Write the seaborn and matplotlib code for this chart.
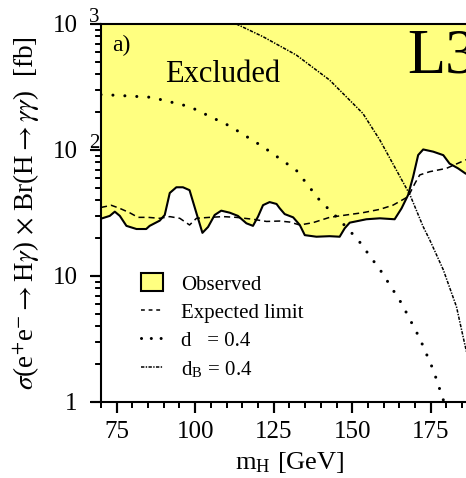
import matplotlib
matplotlib.use("Agg")
import matplotlib.pyplot as plt
import seaborn as sns
import numpy as np
from matplotlib.patches import Patch
from matplotlib.lines import Line2D

# Observed 95% CL limit on sigma x BR [fb] vs Higgs mass [GeV]
obs_mass = [70, 72.8, 74.4, 76, 78.1, 81.3, 84.4, 85.5, 88.7, 90.3, 91.9, 94, 96.1, 98.2,
            100.4, 102.3, 104.1, 106.2, 108.3, 111, 113.6, 116.3, 118.4, 120, 121.6, 123.7,
            125.9, 126.9, 128.5, 131.2, 133.3, 134.9, 138.6, 142.8, 146, 147.6, 149.2, 154.5,
            158.8, 163.5, 165.7, 167.8, 169.4, 171, 172.6, 175.8, 179, 181, 183.7, 186.1, 190]
obs_limit = [28.5, 30, 32.4, 30, 25, 23.6, 23.6, 25, 27.5, 30.5, 45.6, 50.6, 50.6, 48,
             31.5, 22, 24.5, 30.5, 33, 31.8, 30, 26.2, 25, 29.6, 36.5, 38.6,
             37.3, 34.5, 31, 29.2, 25.4, 21.1, 20.5, 20.7, 20.5, 23.9, 26.5, 28.2,
             28.7, 28.2, 34.4, 44, 61.4, 91.2, 101, 97, 91, 78, 71.5, 65, 60]

# Expected limit
exp_mass = [70, 73.3, 76, 79.1, 81.8, 85, 88.7, 91.9, 95.1, 98.2, 100.4, 104.6, 108.9,
            113.1, 118.4, 122.7, 126.9, 130.1, 133.3, 137.5, 142.8, 148.1, 153.4, 158.8,
            163, 167.8, 170, 171.5, 174.7, 180, 186.1, 190]
exp_limit = [35, 36.4, 34.4, 31.8, 29.2, 29.2, 28.7, 29.6, 28.7, 25.4, 28.7, 29.2, 29.6,
             29.2, 28.2, 27.1, 27.3, 26.8, 25.4, 26.5, 29.2, 30.5, 31.8, 33.8,
             36.5, 42.6, 54.5, 63.4, 67.3, 71.5, 83.4, 88]

# Model prediction, d = 0.4
d_mass = [70, 73.3, 86, 98.2, 111, 121.6, 132.2, 139.6, 146, 151.9, 159.3, 165.7, 171.5,
          175.8, 179, 180]
d_xsec = [275, 273, 262, 221, 155, 106, 69, 40, 27.8, 19.3, 10.8, 6.07, 3.2,
          1.8, 1.04, 0.9]

# Model prediction, d_B = 0.4
dB_mass = [113.1, 121.6, 132.2, 142.8, 153.4, 158.8, 164.1, 168.4, 172.6, 174.7, 179,
           183.2, 185.8, 187.5]
dB_xsec = [1000, 793, 567, 359, 195, 120, 69, 44, 24.6, 19.3, 11.2,
           5.7, 2.9, 1.9]

y_ticks = [1, 10, 100, 1000]
y_ticklabels = ["1", "10", "10", "10"]
y_exponents = {100: "2", 1000: "3"}
y_minor = [m * 10 ** e for e in range(0, 3) for m in range(2, 10)]
x_ticks = [75, 100, 125, 150, 175]
x_minor = [m for m in range(70, 191, 5) if m % 25 != 0]

yellow = "#ffff80"

sns.set_style("ticks")
plt.rcParams["font.family"] = ["Liberation Serif", "DejaVu Serif"]
plt.rcParams["mathtext.fontset"] = "stix"
plt.rcParams["text.color"] = "black"
plt.rcParams["axes.labelcolor"] = "black"

fig = plt.figure(figsize=(4.66, 4.78), dpi=100)
ax = fig.add_axes([0.2167, 0.159, 0.8087, 0.7908])
ax.set_yscale("log")

ax.fill_between(obs_mass, obs_limit, 5000, color=yellow, lw=0, zorder=1)
sns.lineplot(x=obs_mass, y=obs_limit, ax=ax, color="black", lw=1.5,
             sort=False, estimator=None, zorder=3)
sns.lineplot(x=exp_mass, y=exp_limit, ax=ax, color="black", lw=1.1,
             sort=False, estimator=None, zorder=3, dashes=False,
             linestyle=(0, (4, 2.6)))
line_d = sns.lineplot(x=d_mass, y=d_xsec, ax=ax, color="black", lw=2.2,
                      sort=False, estimator=None, zorder=3).lines[-1]
line_d.set_linestyle((0, (0.01, 3.9)))
line_d.set_dash_capstyle("round")
line_dB = sns.lineplot(x=dB_mass, y=dB_xsec, ax=ax, color="black", lw=1.1,
                       sort=False, estimator=None, zorder=3).lines[-1]
line_dB.set_linestyle((0, (2.2, 0.9, 0.9, 0.9)))

ax.set_xlim(70, 190)
ax.set_ylim(1, 1000)
ax.set_autoscale_on(False)

# axes styling
for side in ["left", "bottom", "top", "right"]:
    ax.spines[side].set_linewidth(1.5)
    ax.spines[side].set_color("black")

ax.set_xticks(x_ticks)
ax.set_xticks(x_minor, minor=True)
ax.set_yticks(y_ticks, y_ticklabels)
ax.set_yticks(y_minor, [""] * len(y_minor), minor=True)
ax.tick_params(axis="both", which="major", direction="out", length=8, width=1.5,
               labelsize=18, color="black", labelcolor="black")
ax.tick_params(axis="both", which="minor", direction="out", length=4.5, width=1.3,
               color="black")
ax.tick_params(axis="y", which="major", pad=9)
ax.tick_params(axis="x", which="major", pad=6)

# tick marks drawn as explicit segments just outside the frame
tick_style = dict(color="black", clip_on=False, zorder=6, solid_capstyle="butt")
xtrans = ax.get_xaxis_transform()
ytrans = ax.get_yaxis_transform()
for xt in x_ticks:
    ax.plot([xt, xt], [0, -0.029], transform=xtrans, lw=1.5, **tick_style)
for xt in x_minor:
    ax.plot([xt, xt], [0, -0.016], transform=xtrans, lw=1.3, **tick_style)
for yt in y_ticks:
    ax.plot([0, -0.0265], [yt, yt], transform=ytrans, lw=1.5, **tick_style)
for yt in y_minor:
    ax.plot([0, -0.0135], [yt, yt], transform=ytrans, lw=1.3, **tick_style)
ax.set_xlim(70, 190)
ax.set_ylim(1, 1000)

for val, sup in y_exponents.items():
    ax.annotate(sup, xy=(0, val), xycoords=("axes fraction", "data"),
                xytext=(-5, -2), textcoords="offset points",
                ha="center", va="bottom", fontsize=15)

ax.set_xlabel(r"m$_\mathregular{H}$ [GeV]", fontsize=19)
ax.set_ylabel(r"$\sigma$(e$^{+}$e$^{-}$$\rightarrow$H$\gamma$) $\times$ Br(H$\rightarrow\gamma\gamma$)  [fb]",
              fontsize=19.5)
ax.yaxis.set_label_coords(-0.154, 0.5)
ax.xaxis.set_label_coords(0.5, -0.128)

ax.text(0.029, 0.972, "a)", transform=ax.transAxes, fontsize=17, va="top", ha="left")
ax.text(0.170, 0.8466, "Excluded", transform=ax.transAxes, fontsize=22,
        va="baseline", ha="left")
ax.text(0.812, 0.873, "L3", transform=ax.transAxes, fontsize=45,
        va="baseline", ha="left")

handles = [
    Patch(facecolor=yellow, edgecolor="black", linewidth=1.5),
    Line2D([], [], color="black", lw=1.1, linestyle=(0, (2.5, 2.5))),
    Line2D([], [], color="black", lw=2.2, linestyle=(0, (0.01, 3.2)),
           dash_capstyle="round"),
    Line2D([], [], color="black", lw=1.1, linestyle=(0, (2.2, 0.9, 0.9, 0.9))),
]
labels = ["Observed", "Expected limit", "d   = 0.4", r"d$_\mathregular{B}$ = 0.4"]
ax.legend(handles, labels, loc="upper left", bbox_to_anchor=(0.105, 0.34),
          frameon=False, fontsize=15, handlelength=1.1, handleheight=0.95,
          handletextpad=0.85, labelspacing=0.35, borderpad=0, borderaxespad=0)

fig.savefig("out.png", dpi=100)
